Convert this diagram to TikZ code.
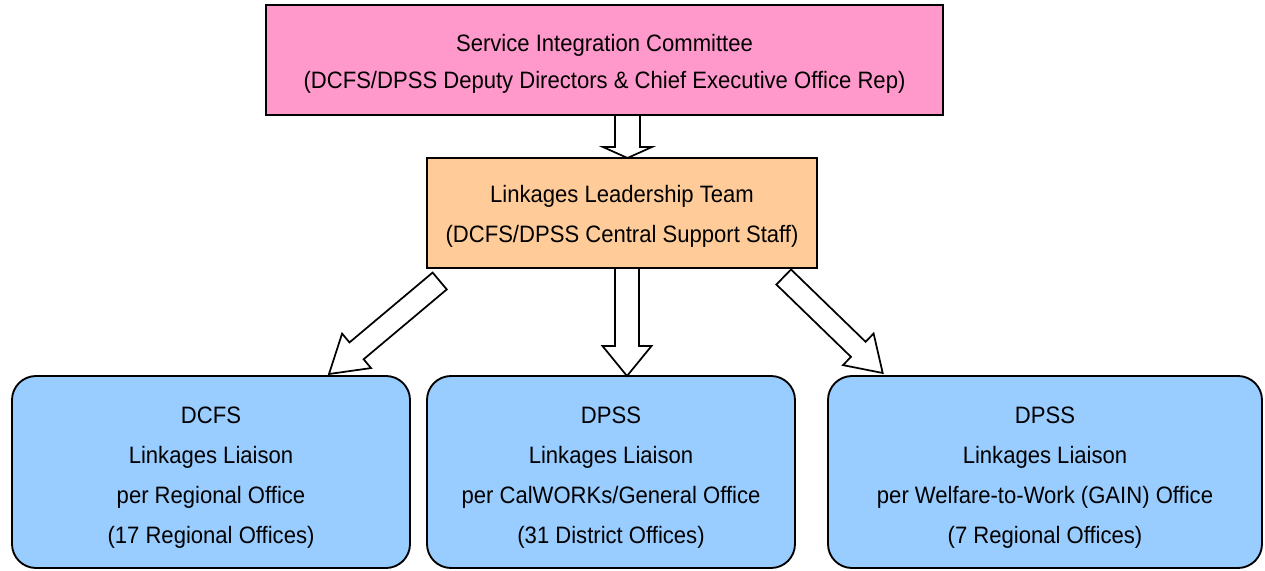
\documentclass[tikz,border=0pt]{standalone}
\usepackage{fontspec}
\setmainfont{Liberation Sans}[FakeStretch=0.93]
\usetikzlibrary{calc}
\definecolor{pinkfill}{HTML}{FF99CC}
\definecolor{orangefill}{HTML}{FFCC99}
\definecolor{bluefill}{HTML}{99CCFF}
\tikzset{
  box/.style={draw=black, line width=1.4pt, inner sep=0pt, outer sep=0pt},
  topbox/.style={box, fill=pinkfill},
  leadbox/.style={box, fill=orangefill},
  unitbox/.style={box, fill=bluefill, rounded corners=18pt},
  txt/.style={align=center, inner sep=0pt, font=\fontsize{17.8}{#1}\selectfont},
  arrowbody/.style={draw=black, fill=white, line width=1.3pt, line join=miter}
}
% #1 start, #2 end, #3 shaft half width, #4 head half width, #5 head length (px)
\newcommand\blockarrow[5]{%
  \coordinate (ba-h) at ($(#2)!#5*0.75pt!(#1)$);
  \draw[arrowbody] ($(#1)!#3*0.75pt!90:(#2)$) -- ($(ba-h)!#3*0.75pt!90:(#2)$)
    -- ($(ba-h)!#4*0.75pt!90:(#2)$) -- (#2) -- ($(ba-h)!#4*0.75pt!-90:(#2)$)
    -- ($(ba-h)!#3*0.75pt!-90:(#2)$) -- ($(#1)!#3*0.75pt!-90:(#2)$) -- cycle;
}
\begin{document}
\begin{tikzpicture}[x=0.75pt, y=-0.75pt]
\useasboundingbox (0,0) rectangle (1265,571);
\node[topbox, minimum width=507.75pt, minimum height=82.5pt] (sic) at (604.5,60) {};
\node[txt=28pt] (sic-t) at ($(sic)+(0,4)$)
  {Service Integration Committee\\(DCFS/DPSS Deputy Directors \& Chief Executive Office Rep)};
\node[leadbox, minimum width=292.5pt, minimum height=82.5pt] (llt) at (622,213) {};
\node[txt=29.5pt] (llt-t) at ($(llt)+(0,3.5)$)
  {Linkages Leadership Team\\(DCFS/DPSS Central Support Staff)};
\node[unitbox, minimum width=298.5pt, minimum height=144pt] (u1) at (211,472) {};
\node[txt=30pt] (u1-t) at ($(u1)+(0,6)$)
  {DCFS\\Linkages Liaison\\per Regional Office\\(17 Regional Offices)};
\node[unitbox, minimum width=276pt, minimum height=144pt] (u2) at (611,472) {};
\node[txt=30pt] (u2-t) at ($(u2)+(0,6)$)
  {DPSS\\Linkages Liaison\\per CalWORKs/General Office\\(31 District Offices)};
\node[unitbox, minimum width=325.5pt, minimum height=144pt] (u3) at (1045,472) {};
\node[txt=30pt] (u3-t) at ($(u3)+(0,6)$)
  {DPSS\\Linkages Liaison\\per Welfare-to-Work (GAIN) Office\\(7 Regional Offices)};
\coordinate (a1s) at ($(sic.south)+(23,0)$);
\coordinate (a1e) at ($(llt.north)+(5.5,0)$);
\coordinate (a2s) at ($(llt.south)+(5,0)$);
\coordinate (a2e) at ($(u2.north)+(16,0)$);
\coordinate (a3s) at ($(llt.south west)+(12.7,13)$);
\coordinate (a3e) at ($(u1.north east)+(-81,-2)$);
\coordinate (a4s) at ($(llt.south east)+(-33.3,9)$);
\coordinate (a4e) at ($(u3.north west)+(54.7,-3)$);
\blockarrow{a1s}{a1e}{12.5}{24.5}{11}
\blockarrow{a2s}{a2e}{12}{24.5}{30}
\blockarrow{a3s}{a3e}{11}{22.5}{36}
\blockarrow{a4s}{a4e}{10.5}{22}{34}
\end{tikzpicture}
\end{document}
